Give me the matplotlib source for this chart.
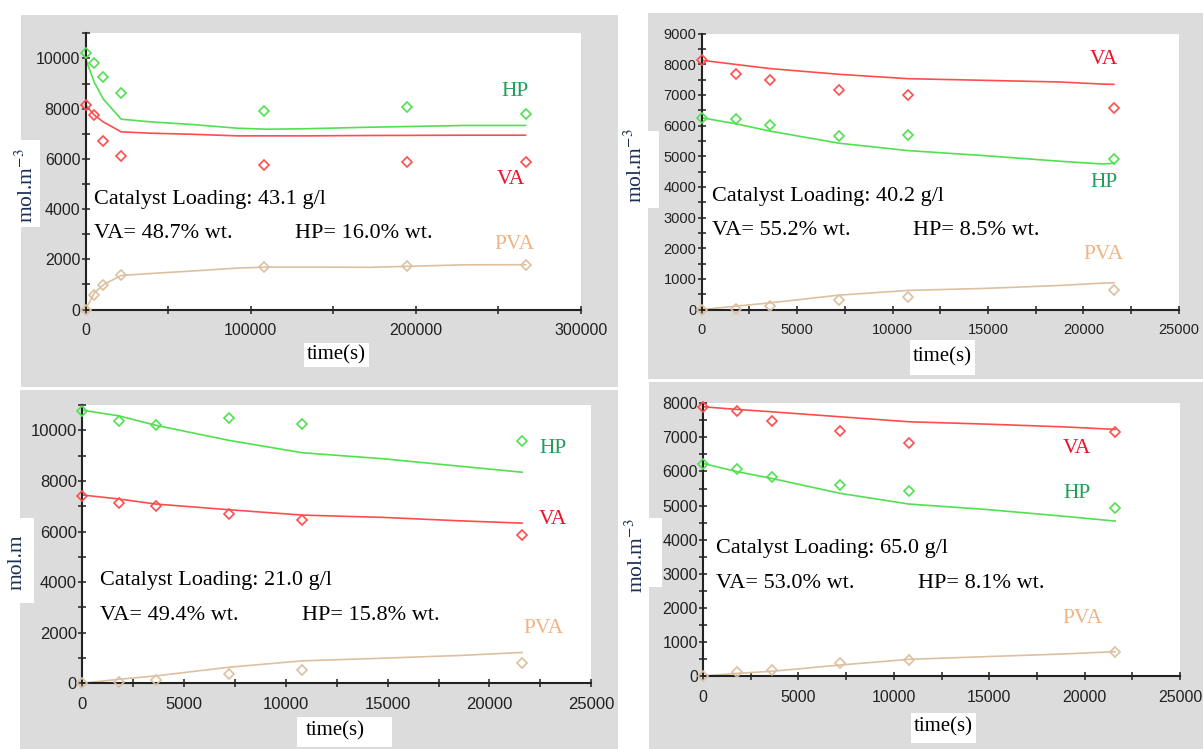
import matplotlib
matplotlib.use("Agg")
import matplotlib.pyplot as plt
from matplotlib.patches import Rectangle
from matplotlib.ticker import MultipleLocator

W, H = 1203, 749

# --- data (time in s, concentration in mol/m3) ---

# panel 1: catalyst loading 43.1 g/l
t1_exp = [0, 5400, 10800, 21600, 108000, 194400, 266400]
hp1_exp = [10200, 9830, 9270, 8620, 7925, 8064, 7767]
va1_exp = [8156, 7728, 6730, 6117, 5770, 5860, 5860]
pva1_exp = [0, 570, 970, 1356, 1700, 1715, 1784]
t1_mod = [0, 5400, 10800, 21600, 40000, 64000, 92000, 110000, 134000, 172000, 230000, 266400]
hp1_mod = [10000, 9040, 8380, 7580, 7470, 7370, 7220, 7180, 7200, 7260, 7330, 7330]
va1_mod = [8150, 7740, 7470, 7075, 7020, 6980, 6915, 6915, 6915, 6930, 6942, 6942]
pva1_mod = [0, 665, 985, 1356, 1436, 1530, 1650, 1690, 1690, 1680, 1780, 1784]

# panel 2: catalyst loading 40.2 g/l
t2_exp = [0, 1800, 3600, 7200, 10800, 21600]
va2_exp = [8120, 7680, 7495, 7167, 6982, 6578]
hp2_exp = [6250, 6220, 6010, 5650, 5700, 4920]
pva2_exp = [0, 30, 130, 305, 404, 622]
t2_mod = [0, 1800, 3600, 7200, 10800, 14800, 18800, 21000, 21600]
va2_mod = [8127, 7990, 7855, 7669, 7527, 7473, 7418, 7350, 7342]
hp2_mod = [6251, 6055, 5815, 5422, 5182, 5018, 4833, 4745, 4767]
pva2_mod = [0, 109, 218, 469, 622, 687, 785, 860, 873]

# panel 3: catalyst loading 21.0 g/l
t3_exp = [0, 1800, 3600, 7200, 10800, 21600]
hp3_exp = [10768, 10371, 10199, 10490, 10265, 9576]
va3_exp = [7417, 7126, 7020, 6675, 6437, 5881]
pva3_exp = [0, 66, 132, 371, 530, 821]
t3_mod = [0, 1800, 3600, 7200, 10800, 14800, 18500, 21600]
hp3_mod = [10795, 10570, 10199, 9603, 9113, 8874, 8583, 8344]
va3_mod = [7444, 7285, 7086, 6861, 6649, 6556, 6424, 6331]
pva3_mod = [0, 159, 291, 636, 887, 993, 1099, 1219]

# panel 4: catalyst loading 65.0 g/l
t4_exp = [0, 1800, 3600, 7200, 10800, 21600]
va4_exp = [7880, 7780, 7487, 7193, 6823, 7155]
hp4_exp = [6217, 6061, 5845, 5592, 5425, 4936]
pva4_exp = [0, 108, 185, 381, 469, 713]
t4_mod = [0, 1800, 3600, 7200, 10800, 14800, 18800, 21600]
va4_mod = [7898, 7820, 7751, 7604, 7458, 7390, 7311, 7235]
hp4_mod = [6237, 5992, 5797, 5357, 5044, 4888, 4692, 4545]
pva4_mod = [0, 78, 137, 323, 489, 567, 645, 713]

loading_txt = ["Catalyst Loading: 43.1 g/l", "Catalyst Loading: 40.2 g/l",
               "Catalyst Loading: 21.0 g/l", "Catalyst Loading: 65.0 g/l"]
va_txt = ["VA= 48.7% wt.", "VA= 55.2% wt.", "VA= 49.4% wt.", "VA= 53.0% wt."]
hp_txt = ["HP= 16.0% wt.", "HP= 8.5% wt.", "HP= 15.8% wt.", "HP= 8.1% wt."]
ylabels = ["mol.m$^{-3}$", "mol.m$^{-3}$", "mol.m", "mol.m$^{-3}$"]

RED = "#ff4d4d"
GREEN = "#50e050"
TAN = "#dcc0a0"
RED_TXT = "#e8142c"
GREEN_TXT = "#1ea05a"
TAN_TXT = "#eeb484"
NAVY = "#1a2f55"
GRAY_BG = "#dcdcdc"

plt.rcParams["mathtext.fontset"] = "stix"
SERIF = "Liberation Serif"


def fx(x):
    return x / W


def fy(y):
    return 1 - y / H


def rect(fig, l, t, r, b, color):
    fig.add_artist(Rectangle((fx(l), fy(b)), (r - l) / W, (b - t) / H,
                             transform=fig.transFigure, facecolor=color,
                             edgecolor="none", zorder=0))


def txt(fig, x, y, s, color="black", ha="left", size=15, **kw):
    fig.text(fx(x), fy(y), s, color=color, ha=ha, va="center",
             family=SERIF, fontsize=size, **kw)


def make_panel(fig, box, xmax, xmaj, xmin, ymax, ymaj, ymin, tsize,
               t_exp, t_mod, series):
    l, t, r, b = box
    ax = fig.add_axes([fx(l), fy(b), (r - l) / W, (b - t) / H])
    ax.set_facecolor("white")
    for exp, mod, col in series:
        ax.plot(t_mod, mod, color=col, lw=1.2, zorder=2, clip_on=False)
        ax.plot(t_exp, exp, ls="none", marker="D", ms=5.5, mfc="none",
                mec=col, mew=1.2, zorder=3, clip_on=False)
    ax.set_xlim(0, xmax)
    ax.set_ylim(0, ymax)
    ax.xaxis.set_major_locator(MultipleLocator(xmaj))
    ax.xaxis.set_minor_locator(MultipleLocator(xmin))
    ax.yaxis.set_major_locator(MultipleLocator(ymaj))
    ax.yaxis.set_minor_locator(MultipleLocator(ymin))
    for s in ["top", "right"]:
        ax.spines[s].set_visible(False)
    for s in ["left", "bottom"]:
        ax.spines[s].set_linewidth(1.5)
        ax.spines[s].set_color("#222222")
    ax.tick_params(which="both", direction="inout", length=5.5, width=1.1,
                   color="#222222", labelcolor="#222222", labelsize=tsize)
    ax.tick_params(axis="y", which="both", pad=1)
    ax.tick_params(axis="x", which="both", pad=7)
    for lab in ax.get_xticklabels() + ax.get_yticklabels():
        lab.set_family("Liberation Sans")
    return ax


fig = plt.figure(figsize=(W / 100, H / 100), dpi=100)
fig.patch.set_facecolor("white")

# grey panel backgrounds
rect(fig, 20.7, 15, 617.7, 386.7, GRAY_BG)
rect(fig, 647.7, 13, 1203, 379.3, GRAY_BG)
rect(fig, 20, 390, 617.7, 749, GRAY_BG)
rect(fig, 648.8, 381.7, 1203, 749, GRAY_BG)

# white patches behind axis titles
rect(fig, 20.7, 140, 40, 227, "white")
rect(fig, 304, 343, 369, 367, "white")
rect(fig, 647.7, 131, 659, 208, "white")
rect(fig, 909.6, 340, 975, 375, "white")
rect(fig, 20, 518, 34.4, 603, "white")
rect(fig, 296.6, 717, 392.3, 747, "white")
rect(fig, 648.8, 518, 661.5, 587, "white")
rect(fig, 910.8, 713, 976, 743, "white")

make_panel(fig, (85.5, 33.3, 581, 309.5), 300000, 100000, 50000,
           11000, 2000, 1000, 11.5, t1_exp, t1_mod,
           [(hp1_exp, hp1_mod, GREEN), (va1_exp, va1_mod, RED),
            (pva1_exp, pva1_mod, TAN)])
make_panel(fig, (701.7, 33.5, 1178.8, 309.5), 25000, 5000, 2500,
           9000, 1000, 500, 10.5, t2_exp, t2_mod,
           [(hp2_exp, hp2_mod, GREEN), (va2_exp, va2_mod, RED),
            (pva2_exp, pva2_mod, TAN)])
make_panel(fig, (82.3, 405, 591.3, 683.3), 25000, 5000, 2500,
           11000, 2000, 1000, 12, t3_exp, t3_mod,
           [(hp3_exp, hp3_mod, GREEN), (va3_exp, va3_mod, RED),
            (pva3_exp, pva3_mod, TAN)])
make_panel(fig, (703, 403.3, 1180, 676), 25000, 5000, 2500,
           8000, 1000, 500, 11.5, t4_exp, t4_mod,
           [(hp4_exp, hp4_mod, GREEN), (va4_exp, va4_mod, RED),
            (pva4_exp, pva4_mod, TAN)])

# axis titles
ylab_pos = [(27, 186), (636, 166), (17, 562), (637, 556)]
xlab_pos = [(336, 355), (942, 357), (335, 731), (943, 727)]
for i in range(4):
    txt(fig, ylab_pos[i][0], ylab_pos[i][1], ylabels[i], color=NAVY,
        ha="center", size=15.5, rotation=90)
    txt(fig, xlab_pos[i][0], xlab_pos[i][1], "time(s)", ha="center", size=15)

# annotations inside each panel
ann_pos = [(93.8, 199, 234, 294.7), (711.5, 196.7, 231, 913.5),
           (100.3, 580, 615, 302.3), (716.5, 548.3, 583.3, 918.5)]
for i, (x0, y0, y1, x1) in enumerate(ann_pos):
    txt(fig, x0, y0, loading_txt[i], size=16)
    txt(fig, x0, y1, va_txt[i], size=16)
    txt(fig, x1, y1, hp_txt[i], size=16)

# curve labels
curve_lab = [
    [(514.7, 91.7, "HP", GREEN_TXT), (510.9, 180, "VA", RED_TXT), (514.7, 245, "PVA", TAN_TXT)],
    [(1103.8, 60, "VA", RED_TXT), (1103.8, 182.7, "HP", GREEN_TXT), (1103.8, 254, "PVA", TAN_TXT)],
    [(553, 448.3, "HP", GREEN_TXT), (553, 520, "VA", RED_TXT), (543.4, 628.3, "PVA", TAN_TXT)],
    [(1076.9, 448.3, "VA", RED_TXT), (1076.9, 493.3, "HP", GREEN_TXT), (1082.7, 618.3, "PVA", TAN_TXT)],
]
for labs in curve_lab:
    for x, y, s, c in labs:
        txt(fig, x, y, s, color=c, ha="center", size=15.5)

fig.savefig("out.png", dpi=100, facecolor=fig.get_facecolor())
